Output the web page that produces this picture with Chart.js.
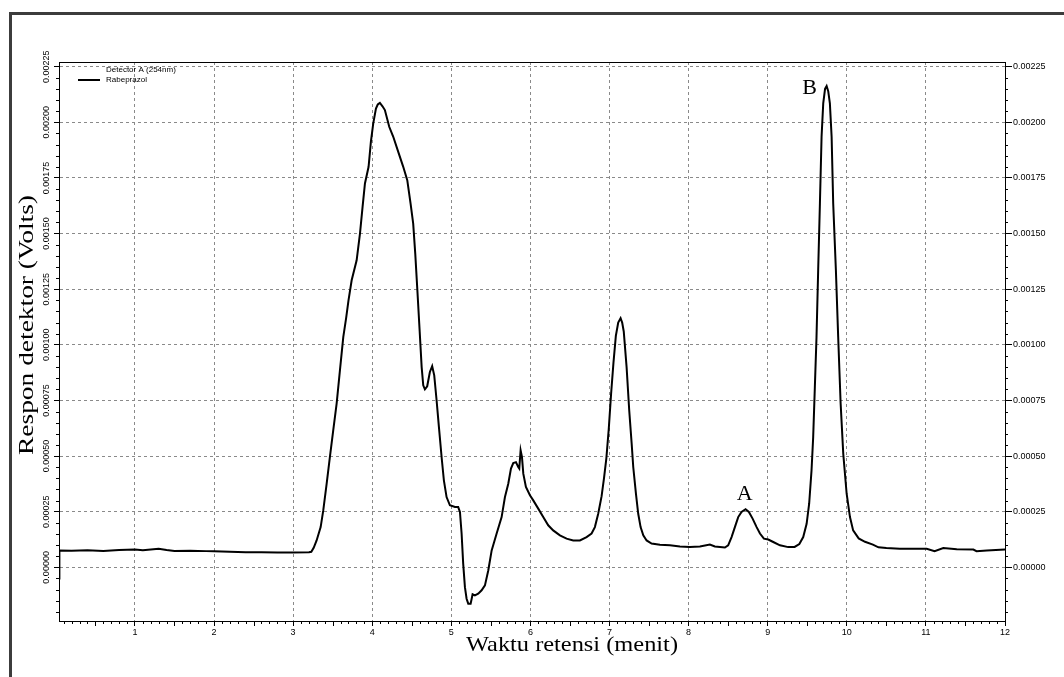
<!DOCTYPE html>
<html lang="id">
<head>
<meta charset="utf-8">
<title>Kromatogram Rabeprazol</title>
<script src="https://cdn.jsdelivr.net/npm/chart.js@4.4.1/dist/chart.umd.min.js"></script>
<style>
    html, body { margin: 0; padding: 0; background: #fff; }
    #wrap { position: relative; width: 1064px; height: 677px; overflow: hidden; }
    #frame {
        position: absolute; left: 9px; top: 12px; width: 1100px; height: 700px;
        border-left: 3px solid #3c3c3c; border-top: 3px solid #3c3c3c;
    }
    #chromatogram { position: absolute; left: 0; top: 0; }
</style>
</head>
<body>
<div id="wrap">
    <div id="frame"></div>
    <canvas id="chromatogram" width="1064" height="677"></canvas>
</div>
<script>
// Waktu retensi (menit)
const retentionTime = [
    0.04, 0.045, 0.2, 0.4, 0.6, 0.8, 1.0, 1.1, 1.3, 1.4,
    1.5, 1.7, 1.9, 2.0, 2.2, 2.4, 2.6, 2.8, 3.0, 3.2,
    3.23, 3.26, 3.297, 3.348, 3.381, 3.424, 3.465, 3.507, 3.55, 3.592,
    3.634, 3.67, 3.70, 3.74, 3.803, 3.845, 3.878, 3.908, 3.954, 3.983,
    4.013, 4.047, 4.07, 4.097, 4.13, 4.16, 4.215, 4.266, 4.329, 4.392,
    4.443, 4.485, 4.518, 4.544, 4.57, 4.60, 4.625, 4.645, 4.666, 4.695,
    4.729, 4.758, 4.784, 4.814, 4.843, 4.877, 4.906, 4.94, 4.982, 5.046,
    5.087, 5.109, 5.13, 5.15, 5.172, 5.193, 5.214, 5.244, 5.258, 5.269,
    5.298, 5.34, 5.383, 5.425, 5.467, 5.51, 5.573, 5.636, 5.678, 5.72,
    5.754, 5.783, 5.817, 5.846, 5.859, 5.876, 5.893, 5.91, 5.943, 5.994,
    6.036, 6.099, 6.162, 6.225, 6.288, 6.373, 6.457, 6.541, 6.626, 6.71,
    6.773, 6.815, 6.857, 6.90, 6.93, 6.96, 6.99, 7.02, 7.05, 7.08,
    7.11, 7.14, 7.16, 7.18, 7.216, 7.249, 7.28, 7.30, 7.334, 7.363,
    7.393, 7.427, 7.469, 7.532, 7.637, 7.764, 7.89, 8.016, 8.143, 8.269,
    8.332, 8.459, 8.50, 8.543, 8.585, 8.627, 8.669, 8.72, 8.762, 8.809,
    8.86, 8.902, 8.952, 9.007, 9.07, 9.155, 9.259, 9.34, 9.40, 9.449,
    9.492, 9.524, 9.554, 9.575, 9.596, 9.617, 9.638, 9.66, 9.681, 9.702,
    9.725, 9.745, 9.765, 9.786, 9.808, 9.828, 9.862, 9.891, 9.922, 9.955,
    9.998, 10.04, 10.08, 10.15, 10.23, 10.33, 10.40, 10.50, 10.67, 10.84,
    11.01, 11.11, 11.22, 11.39, 11.60, 11.64, 11.77, 12.0
];

// Respon detektor (Volts), same order as retentionTime
const detectorResponse = [
    -0.00005, 0.000076, 0.000075, 0.000077, 0.000074, 0.000078, 0.00008, 0.000077, 0.000084, 0.000078,
    0.000074, 0.000075, 0.000073, 0.000072, 0.00007, 0.000068, 0.000068, 0.000067, 0.000067, 0.000068,
    0.00007, 0.000088, 0.000121, 0.000181, 0.000256, 0.000376, 0.000496, 0.000616, 0.000736, 0.000886,
    0.001035, 0.00112, 0.0012, 0.00129, 0.00138, 0.0015, 0.00162, 0.001725, 0.0018, 0.001912,
    0.001995, 0.002062, 0.00208, 0.002087, 0.002072, 0.002055, 0.00198, 0.001935, 0.001867, 0.0018,
    0.00174, 0.001635, 0.001545, 0.00141, 0.00125, 0.00106, 0.0009, 0.000818, 0.0008, 0.000814,
    0.000878, 0.000904, 0.000863, 0.00075, 0.000631, 0.000496, 0.000391, 0.000316, 0.000279, 0.000271,
    0.000271, 0.000249, 0.000152, 0.000017, -0.000089, -0.000141, -0.000163, -0.000163, -0.00014, -0.000121,
    -0.000126, -0.000118, -0.000103, -0.000081, -0.000014, 0.000076, 0.000152, 0.000226, 0.000316, 0.000376,
    0.000444, 0.000469, 0.000473, 0.000451, 0.000444, 0.000526, 0.000496, 0.000421, 0.000361, 0.000324,
    0.000301, 0.000264, 0.000226, 0.000189, 0.000166, 0.000144, 0.000129, 0.000121, 0.000121, 0.000136,
    0.000152, 0.000181, 0.000241, 0.00032, 0.0004, 0.00049, 0.00062, 0.00078, 0.00092, 0.00104,
    0.0011, 0.00112, 0.0011, 0.00106, 0.0009, 0.000706, 0.000556, 0.000451, 0.000331, 0.000241,
    0.000181, 0.000144, 0.000121, 0.000107, 0.000102, 0.000099, 0.000094, 0.000091, 0.000094, 0.000103,
    0.000094, 0.000089, 0.000099, 0.000136, 0.000181, 0.000226, 0.000249, 0.000261, 0.000249, 0.000219,
    0.000181, 0.000152, 0.000129, 0.000125, 0.000114, 0.000099, 0.000091, 0.000092, 0.000105, 0.000136,
    0.000196, 0.000286, 0.000436, 0.000586, 0.00081, 0.001035, 0.001335, 0.001635, 0.001935, 0.002085,
    0.00215, 0.002163, 0.00214, 0.002085, 0.001935, 0.001635, 0.001335, 0.001035, 0.000736, 0.000511,
    0.000331, 0.000226, 0.000166, 0.00013, 0.000115, 0.000102, 0.00009, 0.000087, 0.000084, 0.000084,
    0.000084, 0.000073, 0.000087, 0.000081, 0.00008, 0.000073, 0.000076, 0.00008
];

// Peak annotations
const peakLabels = ['A', 'B'];
const peakLabelTimes = [8.71, 9.53];
const peakLabelResponses = [0.000328, 0.002154];

// Axis ticks
const xTickValues = [1, 2, 3, 4, 5, 6, 7, 8, 9, 10, 11, 12];
const yTickValues = [0, 0.00025, 0.0005, 0.00075, 0.001, 0.00125, 0.0015, 0.00175, 0.002, 0.00225];

// Axis range
const xRange = [0.04, 12];
const yRange = [-0.000241, 0.002271];

// Legend texts
const legendTitle = 'Detector A (254nm)';
const seriesName = 'Rabeprazol';

class ChromatogramChart {
    constructor() {
        this.colors = {
            trace: '#000000',
            grid: '#8a8a8a',
            axis: '#000000',
            text: '#000000'
        };
        this.tickFont = { family: 'Liberation Sans, Arial, sans-serif', size: 9 };
    }

    /**
     * Draws minor ticks, plot frame, legend, titles and peak labels
     */
    overlayPlugin() {
        const self = this;
        return {
            id: 'chromatogramOverlay',
            afterDraw(chart) {
                const { ctx, chartArea } = chart;
                const xs = chart.scales.x;
                const yl = chart.scales.y;
                const yr = chart.scales.y2;
                ctx.save();

                // top edge of the plot frame
                ctx.strokeStyle = self.colors.axis;
                ctx.lineWidth = 1;
                ctx.beginPath();
                ctx.moveTo(chartArea.left, Math.round(chartArea.top) + 0.5);
                ctx.lineTo(chartArea.right, Math.round(chartArea.top) + 0.5);

                // minor ticks, every 0.1 min and every 0.00005 V
                for (let k = 1; k < 120; k++) {
                    if (k % 10 === 0) continue;
                    const px = Math.round(xs.getPixelForValue(k / 10)) + 0.5;
                    const len = k % 5 === 0 ? 5 : 3;
                    ctx.moveTo(px, xs.top);
                    ctx.lineTo(px, xs.top + len);
                }
                for (let k = -4; k <= 45; k++) {
                    if (k % 5 === 0) continue;
                    const py = Math.round(yl.getPixelForValue(k * 0.00005)) + 0.5;
                    ctx.moveTo(yl.right, py);
                    ctx.lineTo(yl.right - 3, py);
                    ctx.moveTo(yr.left, py);
                    ctx.lineTo(yr.left + 3, py);
                }
                ctx.stroke();

                // legend
                ctx.fillStyle = self.colors.text;
                ctx.font = '8px "Liberation Sans", Arial, sans-serif';
                ctx.textAlign = 'left';
                ctx.textBaseline = 'middle';
                ctx.fillText(legendTitle, 106, 70);
                ctx.fillText(seriesName, 106, 80);
                ctx.lineWidth = 2;
                ctx.beginPath();
                ctx.moveTo(78, 80);
                ctx.lineTo(100, 80);
                ctx.stroke();

                // axis titles
                self.drawStretched(ctx, 'Waktu retensi (menit)', 572, 651, 212, 0, 21);
                self.drawStretched(ctx, 'Respon detektor (Volts)', 33, 325, 260, -Math.PI / 2, 21);

                // peak labels
                ctx.font = '22px "Liberation Serif", "Times New Roman", serif';
                ctx.textAlign = 'center';
                ctx.textBaseline = 'middle';
                peakLabels.forEach((label, i) => {
                    ctx.fillText(label,
                        xs.getPixelForValue(peakLabelTimes[i]),
                        yl.getPixelForValue(peakLabelResponses[i]));
                });
                ctx.restore();
            }
        };
    }

    /**
     * Draws a serif title, scaled to the width it has in the reference
     */
    drawStretched(ctx, text, cx, cy, targetWidth, angle, size) {
        ctx.save();
        ctx.font = size + 'px "Liberation Serif", "Times New Roman", serif';
        ctx.translate(cx, cy);
        ctx.rotate(angle);
        const w = ctx.measureText(text).width;
        ctx.scale(targetWidth / w, 1);
        ctx.textAlign = 'center';
        ctx.textBaseline = 'alphabetic';
        ctx.fillStyle = this.colors.text;
        ctx.fillText(text, 0, 0);
        ctx.restore();
    }

    yAxis(position) {
        const left = position === 'left';
        return {
            type: 'linear',
            position: position,
            min: yRange[0],
            max: yRange[1],
            afterBuildTicks: scale => { scale.ticks = yTickValues.map(v => ({ value: v })); },
            afterFit: scale => { scale.width = 59; },
            ticks: {
                font: this.tickFont,
                color: this.colors.text,
                autoSkip: false,
                minRotation: left ? 90 : 0,
                maxRotation: left ? 90 : 0,
                crossAlign: left ? 'center' : 'near',
                padding: left ? -9 : 1,
                callback: value => value.toFixed(5)
            },
            grid: {
                drawOnChartArea: left,
                color: this.colors.grid,
                tickColor: this.colors.axis,
                tickLength: left ? 5 : 7
            },
            border: { color: this.colors.axis, width: 1, dash: [3, 3] }
        };
    }

    create() {
        const ctx = document.getElementById('chromatogram');
        this.chart = new Chart(ctx, {
            type: 'line',
            data: {
                datasets: [{
                    label: seriesName,
                    data: retentionTime.map((t, i) => ({ x: t, y: detectorResponse[i] })),
                    borderColor: this.colors.trace,
                    borderWidth: 2,
                    pointRadius: 0,
                    tension: 0,
                    fill: false
                }]
            },
            options: {
                responsive: false,
                animation: false,
                layout: { padding: { top: 62, left: 0, right: 0, bottom: 0 } },
                plugins: {
                    legend: { display: false },
                    tooltip: { enabled: false }
                },
                scales: {
                    x: {
                        type: 'linear',
                        min: xRange[0],
                        max: xRange[1],
                        afterBuildTicks: scale => { scale.ticks = xTickValues.map(v => ({ value: v })); },
                        afterFit: scale => { scale.height = 56; },
                        ticks: {
                            font: this.tickFont,
                            color: this.colors.text,
                            autoSkip: false,
                            maxRotation: 0,
                            padding: 1,
                            callback: value => String(value)
                        },
                        grid: {
                            color: this.colors.grid,
                            tickColor: this.colors.axis,
                            tickLength: 5
                        },
                        border: { color: this.colors.axis, width: 1, dash: [3, 3] }
                    },
                    y: this.yAxis('left'),
                    y2: this.yAxis('right')
                }
            },
            plugins: [this.overlayPlugin()]
        });
    }
}

const chromatogram = new ChromatogramChart();
chromatogram.create();
</script>
</body>
</html>
